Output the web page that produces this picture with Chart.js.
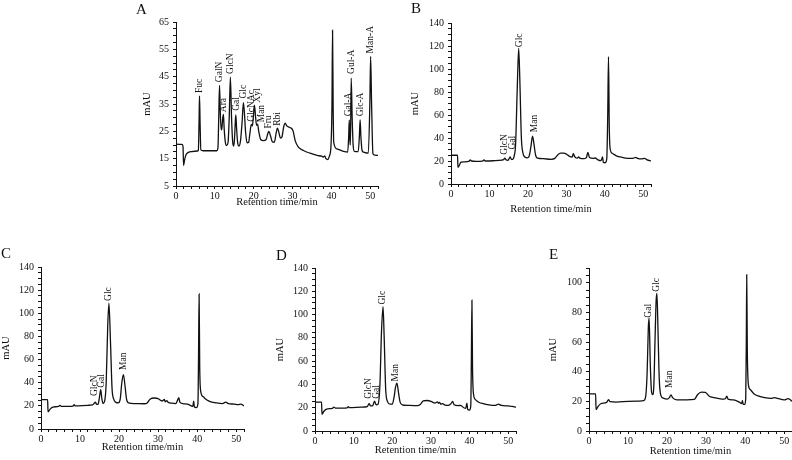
<!DOCTYPE html>
<html>
<head>
<meta charset="utf-8">
<script src="https://cdn.jsdelivr.net/npm/chart.js@4.4.1/dist/chart.umd.min.js"></script>
<style>
  html, body { margin: 0; padding: 0; background: #fff; }
  #fig { position: relative; width: 792px; height: 460px; overflow: hidden; font-family: "Liberation Serif", "Times New Roman", serif; }
  #fig canvas { position: absolute; }
  .letter { position: absolute; font-size: 15px; line-height: 15px; color: #111; }
</style>
</head>
<body>
<div id="fig"></div>
<script>
// retention time (min) / signal (mAU) pairs
const traceA = [[0,20.3],[1.5,20.2],[1.8,19.6],[1.95,12.5],[2.2,14.5],[2.6,16.5],[3.2,17.3],[4,17.6],[5.5,17.8],[5.75,18],
  [5.95,30],[6.05,38],[6.2,28],[6.4,18.2],[7,17.9],[10.5,17.9],[10.8,19],[11.0,30],[11.2,41.8],[11.45,30],
  [11.65,25.5],[11.8,26],[12.05,30],[12.2,31.2],[12.4,26],[12.7,21],[13.0,19.8],[13.4,21],[13.7,30],[14.0,44.8],
  [14.3,30],[14.6,21],[14.85,19.6],[15.05,22],[15.25,28],[15.4,31],[15.6,26],[15.9,20.5],[16.2,19.6],[16.6,21.5],
  [17.0,28],[17.35,35.5],[17.6,32],[17.9,25],[18.3,20.8],[18.7,21],[19.0,24],[19.4,27.5],[19.65,27],[19.9,30],
  [20.2,34.6],[20.5,30],[20.75,27.2],[21.0,27.6],[21.3,25],[21.8,22],[22.5,21.6],[23.2,22],[23.6,24],[23.9,25],
  [24.3,23.5],[24.8,21.2],[25.3,21],[25.8,24.5],[26.1,26.2],[26.5,24.5],[26.9,22.5],[27.3,23],[27.7,26.5],[28.1,28],
  [28.5,27],[29.0,26.6],[29.6,26.2],[30.1,25.3],[30.7,21.5],[31.5,19.2],[32.8,18],[34.5,17],[36.3,16.2],[37.5,15.9],
  [38.0,15.6],[38.3,16.0],[38.6,15],[39.1,14.7],[39.5,16],[39.9,19.8],[40.15,35],[40.3,62],[40.45,35],[40.6,21],
  [41.4,18.6],[43.1,17.7],[44.2,17.4],[44.45,23],[44.6,29.1],[44.8,21],[44.9,20],[45.1,44.5],[45.35,30],[45.6,20],
  [45.9,17.7],[46.9,17.6],[47.2,23],[47.4,29.2],[47.6,23],[47.9,18],[48.3,17.4],[49.5,17],[49.9,35],[50.1,52.4],
  [50.35,35],[50.7,16.8],[51.2,16.3],[52,16.2]];

const traceB = [[0,25],[1.7,25],[1.8,14.5],[2.2,16.5],[2.6,19],[3.5,19.3],[4.7,19.8],[5.0,21],[5.3,20],[6.5,19.7],
  [8.2,19.9],[8.6,21],[8.9,20],[11,20.2],[13.2,20.8],[13.7,21.3],[14.0,22.5],[14.3,21],[14.8,20.5],[15.1,22],
  [15.4,23.5],[15.7,21.5],[16.0,21.5],[16.4,24],[16.8,35],[17.2,80],[17.6,118],[17.9,90],[18.3,40],[18.7,27],
  [19.2,23.5],[19.8,22.8],[20.3,24],[20.8,33],[21.2,41.5],[21.6,34],[22.0,25],[22.5,22.5],[24,22],[26,21.5],
  [27,22.3],[27.8,25.5],[28.5,26.8],[29.3,26.8],[30.0,26],[30.7,24.3],[31.5,23.5],[31.8,26.5],[32.0,25],[32.3,23.2],
  [32.8,22.5],[33.2,23.5],[33.5,22.5],[34.5,22],[35.2,23],[35.6,27.5],[36.0,23],[37,22.3],[37.5,22.6],[38.2,21],
  [39.0,20.3],[39.4,23.5],[39.6,19],[40.1,18.5],[40.5,22],[40.75,60],[40.95,110.8],[41.15,50],[41.4,30],[42,26.5],
  [43,24.5],[44,23.5],[45,22.8],[46.5,22.3],[47.5,22.5],[48.0,23.2],[48.5,22.3],[49.5,21.8],[50.3,22.2],[51,21],[52,20]];

const traceC = [[0,25.3],[1.7,25.3],[1.8,14.8],[2.3,17],[3,19],[4.5,19.5],[4.8,20.5],[5.2,19.6],[7,19.5],[8.2,19.8],
  [8.5,21],[8.8,20],[12,20.5],[13.2,20.8],[13.7,22.5],[13.9,23.3],[14.2,21.5],[14.6,21.2],[15.0,28],[15.3,33.9],
  [15.6,26],[15.9,22],[16.3,24],[16.7,40],[17.1,90],[17.4,108.7],[17.8,75],[18.2,35],[18.6,26],[19.2,23],
  [19.8,22.5],[20.3,26],[20.7,40],[21.1,47],[21.5,38],[21.9,26],[22.4,22.5],[24,22],[26.5,21.8],[27.2,22.5],
  [28,26],[29,26.8],[30,26.3],[31,24.2],[31.6,25.5],[31.8,23.5],[32.2,24.5],[32.6,23],[33.5,22.3],[34.5,22],
  [35,25],[35.3,27],[35.6,23],[36.5,21.8],[37.5,21.5],[38.5,20],[38.9,19.5],[39.1,24],[39.3,19],[39.8,18.5],
  [40.2,22],[40.35,60],[40.5,116.7],[40.65,55],[40.9,33],[41.5,28],[42.5,25],[43.5,23.5],[45,22.5],[46.5,22],
  [47.3,23.2],[48,22],[49.5,21.5],[50.5,21],[51.2,21.5],[52,20]];

const traceD = [[0,24.8],[1.7,24.8],[1.8,14.4],[2.3,17],[3,18.8],[4.5,19.5],[4.9,20.5],[5.3,19.6],[7,19.6],[8.3,19.8],
  [8.6,21],[8.9,20],[12,20.5],[13.5,21],[14.0,23.4],[14.4,21.5],[14.9,21.5],[15.4,25.7],[15.8,22.5],[16.3,23],
  [16.8,40],[17.2,85],[17.6,106.7],[17.9,80],[18.3,35],[18.8,25],[19.4,23],[20.0,23],[20.5,30],[20.8,37],
  [21.2,41.2],[21.6,33],[22,25],[22.6,22.5],[24,22],[26.5,21.8],[27.3,23],[28,25.8],[29,26.2],[30,25.5],
  [31,24],[31.7,25],[31.9,23.8],[32.2,24.5],[32.6,23],[33,23.5],[33.5,22.5],[34.5,22],[35.3,24],[35.6,25.5],
  [36,22.5],[37,21.8],[37.6,22],[38.5,20],[39.0,19.5],[39.3,24],[39.5,18.5],[40.0,18],[40.3,22],[40.45,60],
  [40.6,112.3],[40.75,55],[41.0,32],[41.5,27],[42.5,24.5],[43.5,23.5],[45,22.5],[46.5,22],[47.5,23],[48.2,22],
  [50,21.5],[51,21.2],[52,20.3]];

const traceE = [[0,25.1],[1.7,25.1],[1.8,14.4],[2.3,16.5],[3,18.4],[4.5,19.3],[5.0,21.1],[5.4,19.8],[7,19.5],[10,20],
  [13,20.2],[14.0,20.5],[14.5,23],[14.9,40],[15.2,70],[15.4,76.2],[15.7,45],[16.0,27],[16.3,24.5],[16.6,30],
  [16.9,60],[17.2,88],[17.4,92.9],[17.7,65],[18.0,35],[18.4,24],[19,22.2],[20,21.5],[20.6,22.5],[21.0,24.4],
  [21.4,22.5],[22.5,21],[25,21],[27,21.3],[27.8,24.5],[28.8,26.2],[29.8,26],[30.8,23.5],[32,22.5],[33,22],
  [34.5,21.5],[35.0,22],[35.3,23.5],[35.6,21.5],[37,21],[38.5,19.5],[39.1,18.5],[39.3,20.5],[39.5,18],[39.9,18],
  [40.15,22],[40.3,60],[40.4,105.5],[40.55,55],[40.8,32],[41.3,28],[42.3,25],[43.5,23.5],[45,22.5],[46.5,22],
  [47.5,22.5],[48.3,22],[50,21],[51,21.8],[51.5,21.2],[52,20]];

// peak annotations: name, retention time, signal level at the label foot
const peakNamesA = ['Fuc','GalN','Ara','GlcN','Gal','Glc','GlcNAc','Xyl','Man','Fru','Rbi','Gal-A','Gul-A','Glc-A','Man-A'];
const peakTimesA = [6.05,11.2,12.3,14.0,15.5,17.5,19.4,21.0,21.9,23.9,26.1,44.3,45.2,47.4,50.1];
const peakLevelsA = [39,43,32,46,32.5,37,28.5,35.5,28.3,26,27,30.5,46,30.5,53.5];

const peakNamesB = ['GlcN','Gal','Glc','Man'];
const peakTimesB = [13.9,15.9,17.7,21.6];
const peakLevelsB = [25.5,30,119,45];
const peakTimesC = [13.7,15.6,17.4,21.2];
const peakLevelsC = [28.5,35.6,110.7,51];
const peakTimesD = [13.8,15.8,17.5,20.8];
const peakLevelsD = [27.7,27.7,108.6,42.6];
const peakNamesE = ['Gal','Glc','Man'];
const peakTimesE = [15.2,17.4,20.6];
const peakLevelsE = [76.5,94,29];

// axis ticks
const timeTicks = [0,10,20,30,40,50];
const mauTicksA = [5,15,25,35,45,55,65];
const mauTicksBCD = [0,20,40,60,80,100,120,140];
const mauTicksE = [0,20,40,60,80,100];

const serif = '"Liberation Serif", "Times New Roman", serif';
const ink = '#111';

const panels = [
  { letter: 'A', trace: traceA, names: peakNamesA, times: peakTimesA, levels: peakLevelsA,
    yMin: 5, yMax: 65, yMinor: 2.5, yTicks: mauTicksA,
    area: { l: 176, t: 20, r: 378, b: 186 }, axisLeft: 141, xTitleY: 202, letterAt: [136, 2] },
  { letter: 'B', trace: traceB, names: peakNamesB, times: peakTimesB, levels: peakLevelsB,
    yMin: 0, yMax: 140, yMinor: 5, yTicks: mauTicksBCD,
    area: { l: 451, t: 21, r: 651, b: 184 }, axisLeft: 409, xTitleY: 209, letterAt: [411, 1] },
  { letter: 'C', trace: traceC, names: peakNamesB, times: peakTimesC, levels: peakLevelsC,
    yMin: 0, yMax: 140, yMinor: 5, yTicks: mauTicksBCD,
    area: { l: 41, t: 265, r: 244, b: 429 }, axisLeft: 0, xTitleY: 447, letterAt: [1, 246] },
  { letter: 'D', trace: traceD, names: peakNamesB, times: peakTimesD, levels: peakLevelsD,
    yMin: 0, yMax: 140, yMinor: 5, yTicks: mauTicksBCD,
    area: { l: 315, t: 266, r: 516, b: 431 }, axisLeft: 274, xTitleY: 450, letterAt: [276, 248] },
  { letter: 'E', trace: traceE, names: peakNamesE, times: peakTimesE, levels: peakLevelsE,
    yMin: 0, yMax: 110, yMinor: 5, yTicks: mauTicksE,
    area: { l: 589, t: 266, r: 792, b: 431 }, axisLeft: 547, xTitleY: 451, letterAt: [549, 247] }
];

function stepValues(min, max, step) {
  const out = [];
  for (let v = min; v <= max + 1e-9; v += step) out.push(Math.round(v * 100) / 100);
  return out;
}

const peakLabels = {
  id: 'peakLabels',
  afterDatasetsDraw(chart, args, opts) {
    const { ctx } = chart;
    const { x, y } = chart.scales;
    ctx.save();
    ctx.fillStyle = ink;
    ctx.font = `9.5px ${serif}`;
    ctx.textAlign = 'left';
    ctx.textBaseline = 'middle';
    opts.names.forEach((name, i) => {
      ctx.save();
      ctx.translate(x.getPixelForValue(opts.times[i]), y.getPixelForValue(opts.levels[i]));
      ctx.rotate(-Math.PI / 2);
      ctx.fillText(name, 0, 0);
      ctx.restore();
    });
    ctx.restore();
  }
};

const fig = document.getElementById('fig');
const padTop = 8;
const padRight = 8;

panels.forEach((p) => {
  const yWidth = p.area.l - p.axisLeft;
  const xHeight = p.xTitleY + 7 - p.area.b;
  const canvas = document.createElement('canvas');
  canvas.width = p.area.r + padRight - p.axisLeft;
  canvas.height = p.xTitleY + 7 - (p.area.t - padTop);
  canvas.style.left = p.axisLeft + 'px';
  canvas.style.top = (p.area.t - padTop) + 'px';
  fig.appendChild(canvas);

  const letter = document.createElement('div');
  letter.className = 'letter';
  letter.textContent = p.letter;
  letter.style.left = p.letterAt[0] + 'px';
  letter.style.top = p.letterAt[1] + 'px';
  fig.appendChild(letter);

  const axisCommon = {
    border: { display: true, color: ink, width: 1 },
    grid: { display: true, drawOnChartArea: false, drawTicks: true, tickLength: 3, color: ink, tickColor: ink, tickWidth: 1 }
  };

  new Chart(canvas, {
    type: 'line',
    data: {
      datasets: [{
        data: p.trace.map(([t, v]) => ({ x: t, y: v })),
        borderColor: ink,
        borderWidth: 1.3,
        pointRadius: 0,
        cubicInterpolationMode: 'monotone',
        fill: false
      }]
    },
    options: {
      responsive: false,
      animation: false,
      events: [],
      layout: { padding: { top: padTop, right: padRight, left: 0, bottom: 0 } },
      plugins: {
        legend: { display: false },
        tooltip: { enabled: false },
        peakLabels: { names: p.names, times: p.times, levels: p.levels }
      },
      scales: {
        x: {
          ...axisCommon,
          type: 'linear',
          min: 0,
          max: 52,
          afterBuildTicks: (s) => { s.ticks = stepValues(0, 52, 2).map((v) => ({ value: v })); },
          afterFit: (s) => { s.height = xHeight; },
          ticks: {
            autoSkip: false,
            maxRotation: 0,
            padding: 1,
            color: ink,
            font: { family: serif, size: 10 },
            callback: (v) => (timeTicks.includes(v) ? String(v) : '')
          },
          title: { display: true, text: 'Retention time/min', color: ink, padding: 0, font: { family: serif, size: 10.5 } }
        },
        y: {
          ...axisCommon,
          min: p.yMin,
          max: p.yMax,
          afterBuildTicks: (s) => { s.ticks = stepValues(p.yMin, p.yMax, p.yMinor).map((v) => ({ value: v })); },
          afterFit: (s) => { s.width = yWidth; },
          ticks: {
            autoSkip: false,
            padding: 4,
            color: ink,
            font: { family: serif, size: 10 },
            callback: (v) => (p.yTicks.includes(v) ? String(v) : '')
          },
          title: { display: true, text: 'mAU', color: ink, padding: 0, font: { family: serif, size: 10.5 } }
        }
      }
    },
    plugins: [peakLabels]
  });
});
</script>
</body>
</html>
